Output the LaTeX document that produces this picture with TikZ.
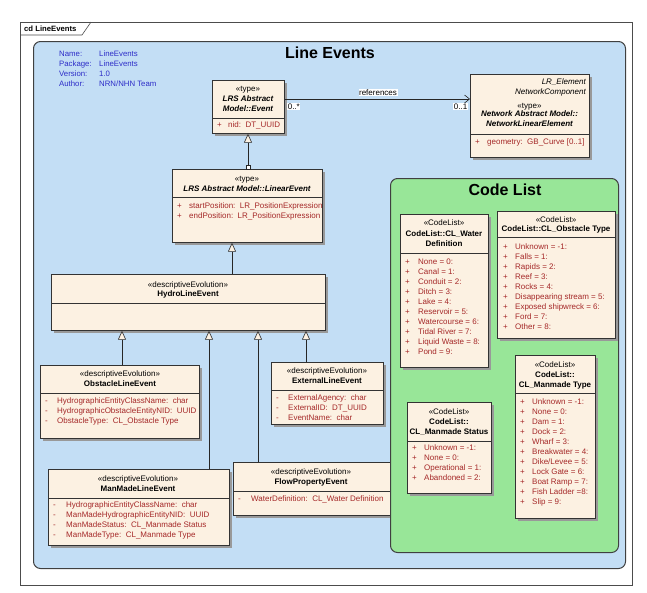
\documentclass[tikz,border=0pt]{standalone}
\usepackage{fontspec}
\setmainfont{Liberation Sans}
\usetikzlibrary{arrows.meta,shadows}
\definecolor{clsfill}{RGB}{252,241,226}
\definecolor{attrc}{RGB}{165,40,40}
\definecolor{pkgblue}{RGB}{195,222,245}
\definecolor{pkggreen}{RGB}{152,230,152}
\definecolor{metac}{RGB}{45,45,200}
\begin{document}
\begin{tikzpicture}[x=1pt,y=-1pt,
 cls/.style={draw=black!80, line width=0.7pt, fill=clsfill, anchor=north west, inner sep=0, drop shadow={shadow xshift=2.5pt, shadow yshift=-2.5pt, fill=black!40, opacity=1}},
 st/.style={font=\fontsize{8}{9}\selectfont, inner sep=0, anchor=mid},
 nm/.style={font=\bfseries\fontsize{8}{9}\selectfont, inner sep=0, anchor=mid},
 nmi/.style={font=\bfseries\itshape\fontsize{8}{9}\selectfont, inner sep=0, anchor=mid},
 ita/.style={font=\itshape\fontsize{8}{9}\selectfont, inner sep=0, anchor=mid east},
 attr/.style={font=\fontsize{8}{9}\selectfont, text=attrc, inner sep=0, anchor=mid west},
 metatxt/.style={font=\fontsize{7.8}{9}\selectfont, text=metac, inner sep=0, anchor=mid west},
 lbl/.style={font=\fontsize{8}{9}\selectfont, fill=white, inner sep=0.6pt},
 sepl/.style={draw=black!80, line width=0.6pt},
 gen/.style={draw=black!85, line width=0.6pt, -{Triangle[fill=clsfill,length=9pt,width=8pt,line width=0.6pt]}},
 pkgbox/.style={draw=black!75, line width=1pt, rounded corners=7pt, anchor=north west, inner sep=0},
]
\useasboundingbox (0,0) rectangle (647,592);
\fill[white] (0,0) rectangle (647,592);
% frame
\node[draw=black!70, line width=0.6pt, anchor=north west, minimum width=612, minimum height=563, inner sep=0] (frame) at (20,22) {};
\draw[black!70, line width=0.6pt] (20,35) -- (82,35) -- (91,22);
\node[font=\bfseries\fontsize{7.7}{9}\selectfont, inner sep=0, anchor=mid west] (framelbl) at (24,29) {cd LineEvents};
% blue package
\node[pkgbox, fill=pkgblue, minimum width=592, minimum height=527] (pkgline) at (33,41) {};
\node[font=\bfseries\fontsize{16}{18}\selectfont, inner sep=0] (title) at (330,53) {Line Events};
\node[metatxt] (m1) at (59,54) {Name:};
\node[metatxt] (m2) at (59,64) {Package:};
\node[metatxt] (m3) at (59,74) {Version:};
\node[metatxt] (m4) at (59,84) {Author:};
\node[metatxt] (v1) at (99,54) {LineEvents};
\node[metatxt] (v2) at (99,64) {LineEvents};
\node[metatxt] (v3) at (99,74) {1.0};
\node[metatxt] (v4) at (99,84) {NRN/NHN Team};

% Event
\node[cls, minimum width=72, minimum height=53] (ev) at (212,80) {};
\draw[sepl] (212,118) -- (284,118);
\node[st] (evs) at (248,89) {«type»};
\node[nmi] (evn1) at (248,99) {LRS Abstract};
\node[nmi] (evn2) at (248,109) {Model::Event};
\node[attr] (eva1p) at (217,125) {+};
\node[attr] (eva1) at (228,125) {nid:\ \ DT\_UUID};

% NetworkLinearElement
\node[cls, minimum width=119, minimum height=83] (nle) at (470,74) {};
\draw[sepl] (470,134) -- (589,134);
\node[ita] (nlet1) at (586,82) {LR\_Element};
\node[ita] (nlet2) at (586,92) {NetworkComponent};
\node[st] (nles) at (529.5,106) {«type»};
\node[nmi] (nlen1) at (529.5,114) {Network Abstract Model::};
\node[nmi] (nlen2) at (529.5,124) {NetworkLinearElement};
\node[attr] (nlea1p) at (475,142) {+};
\node[attr] (nlea1) at (487,142) {geometry:\ \ GB\_Curve [0..1]};

% references association
\draw[black!85, line width=0.6pt, -{Straight Barb[length=5pt,width=8pt,line width=0.6pt]}] (ev.east |- 0,99) coordinate (refa) -- (nle.west |- 0,99) coordinate (refb);
\node[lbl, anchor=mid] (reflbl) at (378,93) {references};
\node[lbl, anchor=mid west] (refm1) at (287,107) {0..*};
\node[lbl, anchor=mid east] (refm2) at (468,107) {0..1};

% LinearEvent
\node[cls, minimum width=150, minimum height=73] (le) at (172,169) {};
\draw[sepl] (172,197) -- (322,197);
\node[st] (les) at (247,179) {«type»};
\node[nmi] (len) at (247,189) {LRS Abstract Model::LinearEvent};
\node[attr] (lea1p) at (177,206) {+};
\node[attr] (lea1) at (189,206) {startPosition:\ \ LR\_PositionExpression};
\node[attr] (lea2p) at (177,216) {+};
\node[attr] (lea2) at (189,216) {endPosition:\ \ LR\_PositionExpression};
\draw[gen] (le.north -| 248,0) -- (ev.south -| 248,0);
\draw[black!85, fill=white, line width=0.5pt] (246,165) rectangle (250,169);

% HydroLineEvent
\node[cls, minimum width=274, minimum height=56] (hy) at (51,274) {};
\draw[sepl] (51,303) -- (325,303);
\node[st] (hys) at (188,285) {«descriptiveEvolution»};
\node[nm] (hyn) at (188,294) {HydroLineEvent};
\draw[gen] (hy.north -| 232,0) -- (le.south -| 232,0);

% ObstacleLineEvent
\node[cls, minimum width=159, minimum height=73] (ob) at (40,365) {};
\draw[sepl] (40,393) -- (199,393);
\node[st] (obs) at (120,374) {«descriptiveEvolution»};
\node[nm] (obn) at (120,384) {ObstacleLineEvent};
\node[attr] (oba1p) at (45,401) {-};
\node[attr] (oba1) at (57,401) {HydrographicEntityClassName:\ \ char};
\node[attr] (oba2p) at (45,411) {-};
\node[attr] (oba2) at (57,411) {HydrographicObstacleEntityNID:\ \ UUID};
\node[attr] (oba3p) at (45,421) {-};
\node[attr] (oba3) at (57,421) {ObstacleType:\ \ CL\_Obstacle Type};
\draw[gen] (ob.north -| 122,0) -- (hy.south -| 122,0);

% ExternalLineEvent
\node[cls, minimum width=112, minimum height=62] (ex) at (271,362) {};
\draw[sepl] (271,390) -- (383,390);
\node[st] (exs) at (327,371) {«descriptiveEvolution»};
\node[nm] (exn) at (327,381) {ExternalLineEvent};
\node[attr] (exa1p) at (276,398) {-};
\node[attr] (exa1) at (288,398) {ExternalAgency:\ \ char};
\node[attr] (exa2p) at (276,408) {-};
\node[attr] (exa2) at (288,408) {ExternalID:\ \ DT\_UUID};
\node[attr] (exa3p) at (276,418) {-};
\node[attr] (exa3) at (288,418) {EventName:\ \ char};
\draw[gen] (ex.north -| 306,0) -- (hy.south -| 306,0);

% ManMadeLineEvent
\node[cls, minimum width=181, minimum height=76] (mm) at (48,469) {};
\draw[sepl] (48,498) -- (229,498);
\node[st] (mms) at (138,479) {«descriptiveEvolution»};
\node[nm] (mmn) at (138,489) {ManMadeLineEvent};
\node[attr] (mma1p) at (53,505) {-};
\node[attr] (mma1) at (66,505) {HydrographicEntityClassName:\ \ char};
\node[attr] (mma2p) at (53,515) {-};
\node[attr] (mma2) at (66,515) {ManMadeHydrographicEntityNID:\ \ UUID};
\node[attr] (mma3p) at (53,525) {-};
\node[attr] (mma3) at (66,525) {ManMadeStatus:\ \ CL\_Manmade Status};
\node[attr] (mma4p) at (53,535) {-};
\node[attr] (mma4) at (66,535) {ManMadeType:\ \ CL\_Manmade Type};
\draw[gen] (mm.north -| 209,0) -- (hy.south -| 209,0);

% FlowPropertyEvent
\node[cls, minimum width=157, minimum height=53] (fl) at (233,462) {};
\draw[sepl] (233,491) -- (390,491);
\node[st] (fls) at (311,472) {«descriptiveEvolution»};
\node[nm] (fln) at (311,482) {FlowPropertyEvent};
\node[attr] (fla1p) at (238,499) {-};
\node[attr] (fla1) at (251,499) {WaterDefinition:\ \ CL\_Water Definition};
\draw[gen] (fl.north -| 258,0) -- (hy.south -| 258,0);

% Code List package
\node[pkgbox, fill=pkggreen, minimum width=228, minimum height=374] (cl) at (390,178) {};
\node[font=\bfseries\fontsize{16}{18}\selectfont, inner sep=0] (cltitle) at (505,190) {Code List};

% CL_Water Definition
\node[cls, minimum width=88, minimum height=153] (cw) at (400,214) {};
\draw[sepl] (400,253) -- (488,253);
\node[st] (cws) at (444,223) {«CodeList»};
\node[nm] (cwn1) at (444,234) {CodeList::CL\_Water};
\node[nm] (cwn2) at (444,244) {Definition};
\foreach \t [count=\i from 0] in {None = 0:,Canal = 1:,Conduit = 2:,Ditch = 3:,Lake = 4:,Reservoir = 5:,Watercourse = 6:,Tidal River = 7:,Liquid Waste = 8:,Pond = 9:}{
  \node[attr] (cwp\i) at (405,262+10*\i) {+};
  \node[attr] (cwi\i) at (418,262+10*\i) {\t};
}

% CL_Obstacle Type
\node[cls, minimum width=118, minimum height=127] (co) at (497,211) {};
\draw[sepl] (497,237) -- (615,237);
\node[st] (cos) at (556,220) {«CodeList»};
\node[nm] (con) at (556,229) {CodeList::CL\_Obstacle Type};
\foreach \t [count=\i from 0] in {Unknown = -1:,Falls = 1:,Rapids = 2:,Reef = 3:,Rocks = 4:,Disappearing stream = 5:,Exposed shipwreck = 6:,Ford = 7:,Other = 8:}{
  \node[attr] (cop\i) at (503,247+10*\i) {+};
  \node[attr] (coi\i) at (515,247+10*\i) {\t};
}

% CL_Manmade Status
\node[cls, minimum width=84, minimum height=91] (cs) at (407,402) {};
\draw[sepl] (407,441) -- (491,441);
\node[st] (css) at (449,412) {«CodeList»};
\node[nm] (csn1) at (449,422) {CodeList::};
\node[nm] (csn2) at (449,432) {CL\_Manmade Status};
\foreach \t [count=\i from 0] in {Unknown = -1:,None = 0:,Operational = 1:,Abandoned = 2:}{
  \node[attr] (csp\i) at (412,448+10*\i) {+};
  \node[attr] (csi\i) at (424,448+10*\i) {\t};
}

% CL_Manmade Type
\node[cls, minimum width=80, minimum height=163] (ct) at (515,355) {};
\draw[sepl] (515,393) -- (595,393);
\node[st] (cts) at (555,365) {«CodeList»};
\node[nm] (ctn1) at (555,375) {CodeList::};
\node[nm] (ctn2) at (555,385) {CL\_Manmade Type};
\foreach \t [count=\i from 0] in {Unknown = -1:,None = 0:,Dam = 1:,Dock = 2:,Wharf = 3:,Breakwater = 4:,Dike/Levee = 5:,Lock Gate = 6:,Boat Ramp = 7:,Fish Ladder =8:,Slip = 9:}{
  \node[attr] (ctp\i) at (520,402+10*\i) {+};
  \node[attr] (cti\i) at (532,402+10*\i) {\t};
}
\end{tikzpicture}
\end{document}
